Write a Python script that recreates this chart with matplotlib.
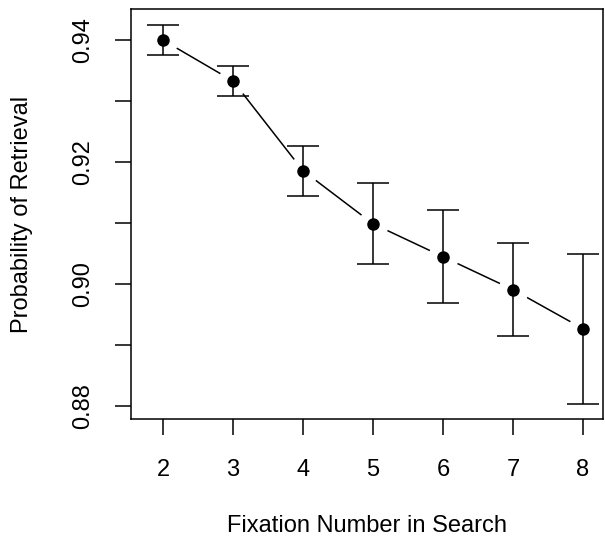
import matplotlib
matplotlib.use("Agg")
import matplotlib.pyplot as plt

plt.rcParams['font.family'] = ['Liberation Sans', 'DejaVu Sans']

fixation = [2, 3, 4, 5, 6, 7, 8]
prob = [0.9400, 0.9333, 0.9186, 0.9099, 0.9045, 0.8991, 0.8927]
upper = [0.9425, 0.9358, 0.9227, 0.9165, 0.9121, 0.9068, 0.9050]
lower = [0.9375, 0.9308, 0.9144, 0.9033, 0.8969, 0.8915, 0.8804]

yerr_lo = [p - l for p, l in zip(prob, lower)]
yerr_hi = [u - p for p, u in zip(prob, upper)]

fig = plt.figure(figsize=(6.05, 5.4), dpi=100)
ax = fig.add_axes([131/605, 1 - 419/540, (603 - 131)/605, (419 - 9)/540])

# line with gaps around points (R type="b")
ax.plot(fixation, prob, color='black', lw=1.1, zorder=1)
ax.plot(fixation, prob, 'o', color='white', ms=22, mec='none', zorder=2)
ax.errorbar(fixation, prob, yerr=[yerr_lo, yerr_hi], fmt='none', ecolor='black',
            elinewidth=1.1, capsize=11.5, capthick=1.1, zorder=3)
ax.plot(fixation, prob, 'o', color='black', ms=8, zorder=4)

ax.set_xlim(1.543, 8.286)
ax.set_ylim(0.8779, 0.9451)
ax.set_xticks(fixation)
ax.set_xticklabels([str(v) for v in fixation])
yt = [0.88, 0.89, 0.90, 0.91, 0.92, 0.93, 0.94]
ax.set_yticks(yt)
ax.set_yticklabels(['0.88', '', '0.90', '', '0.92', '', '0.94'], rotation=90, va='center')

for s in ax.spines.values():
    s.set_linewidth(1.1)
ax.tick_params(axis='both', length=11.5, width=1.1, labelsize=17)
ax.tick_params(axis='x', pad=17)
ax.tick_params(axis='y', pad=15)

fig.text(367/605, 3/540, 'Fixation Number in Search', ha='center', va='bottom', fontsize=17)
fig.text(22/605, 1 - 214/540, 'Probability of Retrieval', ha='center', va='center', rotation=90, fontsize=17)

fig.savefig('out.png', dpi=100)
